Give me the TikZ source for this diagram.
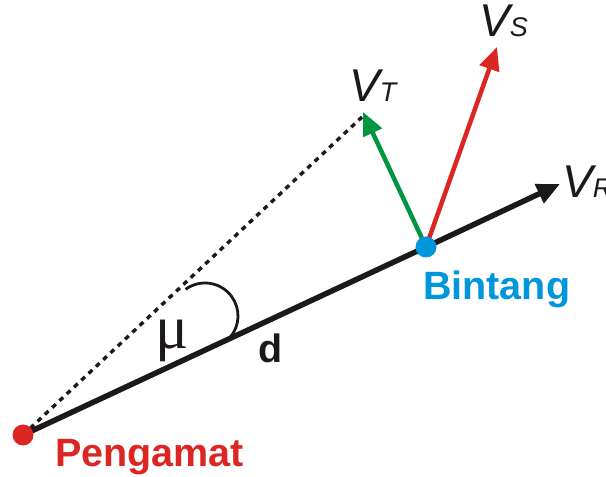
\documentclass[tikz,border=0pt]{standalone}
\usepackage{fontspec}
\setmainfont{Liberation Sans}
\newfontfamily\mufont{Liberation Serif}
\usetikzlibrary{arrows.meta}
\definecolor{cred}{RGB}{220,38,36}
\definecolor{cgreen}{RGB}{0,150,64}
\definecolor{cblue}{RGB}{0,150,220}
\definecolor{cblack}{RGB}{30,25,25}
\tikzset{
  vec/.style={line width=4.5pt,-{Triangle[length=23pt,width=20pt]}},
  dotmark/.style={circle,inner sep=0pt,minimum size=21pt},
  lbl/.style={inner sep=0pt,anchor=base west},
  bigtxt/.style={lbl,font=\fontsize{39.5}{39.5}\selectfont\bfseries}
}
\newcommand{\vlab}[1]{{\fontsize{46}{46}\selectfont\itshape V}{\fontsize{27}{27}\selectfont\itshape #1}}
\begin{document}
\begin{tikzpicture}[x=1pt,y=1pt]
\clip (0,0) rectangle (606,477);
\useasboundingbox (0,0) rectangle (606,477);
\coordinate (P) at (23,42);
\coordinate (B) at (426,230);
\coordinate (RT) at (560,293);
\coordinate (GT) at (363,365);
\coordinate (ST) at (497,430);
\coordinate (DE) at (362,360);
% dotted line of sight
\draw[cblack,line width=3.4pt,dash pattern=on 5pt off 5pt] (P) -- (DE);
% main line d
\draw[cblack,line width=5.5pt] (P) -- (B);
\draw[cblack,vec,line width=5.5pt] (B) -- (RT);
\draw[cgreen,vec] (B) -- (GT);
\draw[cred,vec] (B) -- (ST);
% angle arc
\draw[cblack,line width=2.8pt] (205,161) ++(126:33) arc[start angle=126,end angle=-41,radius=33];
% dots
\node[dotmark,fill=cred] (pengamat) at (P) {};
\node[dotmark,fill=cblue] (bintang) at (B) {};
% labels
\node[bigtxt,text=cred] (lp) at (55,10) {Pengamat};
\node[bigtxt,text=cblue] (lb) at (423,177) {Bintang};
\node[bigtxt,text=cblack] (ld) at (258,114) {d};
\node[lbl,text=cblack,font=\fontsize{62}{62}\mufont] (mu) at (155,128) {μ};
\node[lbl,text=cblack] (vt) at (349,375) {\vlab{T}};
\node[lbl,text=cblack] (vs) at (479,440) {\vlab{S}};
\node[lbl,text=cblack] (vr) at (562,279) {\vlab{R}};
\end{tikzpicture}
\end{document}
